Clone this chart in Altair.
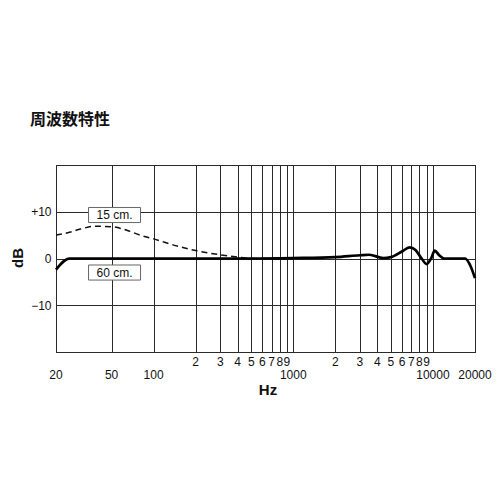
import altair as alt
import pandas as pd

# ---- data ----
freq_15 = [20, 25, 30, 38, 50, 65, 80, 100, 150, 200, 300, 400, 500, 700, 1000]
db_15 = [5.0, 5.6, 6.3, 6.9, 6.8, 6.0, 5.0, 4.2, 2.6, 1.7, 0.8, 0.3, 0.0, 0.0, 0.0]

freq_60 = [20, 25, 30, 50, 100, 500, 1000, 2000, 3000, 3500, 4400, 5000, 6000, 6800,
           7500, 8300, 9000, 9700, 10300, 11000, 12000, 17000, 18500, 20000]
db_60 = [-2.4, 0.0, 0.0, 0.0, 0.0, 0.0, 0.1, 0.3, 0.7, 0.8, 0.1, 0.3, 1.5, 2.4,
         1.8, 0.0, -1.2, 0.0, 1.7, 0.8, 0.0, 0.0, -1.5, -4.2]

grid_freqs = [20, 50, 100, 200, 300, 400, 500, 600, 700, 800, 900, 1000,
              2000, 3000, 4000, 5000, 6000, 7000, 8000, 9000, 10000, 20000]
grid_db = [-20, -15, -10, -5, 0, 5, 10, 15, 20]

minor_freqs = [200, 300, 400, 500, 600, 700, 800, 900,
               2000, 3000, 4000, 5000, 6000, 7000, 8000, 9000]
minor_labels = ["2", "3", "4", "5", "6", "7", "8", "9",
                "2", "3", "4", "5", "6", "7", "8", "9"]
major_freqs = [20, 50, 100, 1000, 10000, 20000]
major_labels = ["20", "50", "100", "1000", "10000", "20000"]

curve_labels = ["15 cm.", "60 cm."]
label_freq = [52.5, 52.5]
label_db = [9.3, -3.0]

W, H = 419, 187

xs = alt.Scale(type="log", domain=[20, 20000], nice=False)
ys = alt.Scale(domain=[-20, 20], nice=False)

base = alt.Chart(pd.DataFrame({"f": [20], "db": [0]})).mark_point(opacity=0).encode(
    x=alt.X("f:Q", scale=xs,
            axis=alt.Axis(values=grid_freqs, grid=True, labels=False, ticks=False,
                          domain=False, title=None, gridColor="#2a2a2a", gridWidth=1,
                          gridOpacity=1)),
    y=alt.Y("db:Q", scale=ys,
            axis=alt.Axis(values=grid_db, grid=True, ticks=False, domain=False, title=None,
                          gridColor="#2a2a2a", gridWidth=1, gridOpacity=1,
                          labelExpr="datum.value == 10 ? '+10' : datum.value == 0 ? '0' : datum.value == -10 ? '\u221210' : ''",
                          labelFont="Liberation Sans", labelFontSize=12, labelColor="#111",
                          labelPadding=5)),
)

dashed = alt.Chart(pd.DataFrame({"f": freq_15, "db": db_15})).mark_line(
    color="#111", strokeWidth=1.5, strokeDash=[6, 4], interpolate="monotone"
).encode(x=alt.X("f:Q", scale=xs), y=alt.Y("db:Q", scale=ys))

solid = alt.Chart(pd.DataFrame({"f": freq_60, "db": db_60})).mark_line(
    color="#000", strokeWidth=2.7, interpolate="monotone"
).encode(x=alt.X("f:Q", scale=xs), y=alt.Y("db:Q", scale=ys))

lab_df = pd.DataFrame({"f": label_freq, "db": label_db, "t": curve_labels})
boxes = alt.Chart(lab_df).mark_point(
    shape="M-1,-0.29L1,-0.29L1,0.29L-1,0.29Z", size=52 * 52, filled=False,
    fill="white", fillOpacity=1, stroke="#666", strokeWidth=1, opacity=1
).encode(x=alt.X("f:Q", scale=xs), y=alt.Y("db:Q", scale=ys))
box_text = alt.Chart(lab_df).mark_text(
    font="Liberation Sans", fontSize=12, color="#111"
).encode(x=alt.X("f:Q", scale=xs), y=alt.Y("db:Q", scale=ys), text="t:N")

minor_txt = alt.Chart(pd.DataFrame({"f": minor_freqs, "t": minor_labels})).mark_text(
    font="Liberation Sans", fontSize=12, color="#111", baseline="middle"
).encode(x=alt.X("f:Q", scale=xs), y=alt.value(H + 10), text="t:N")
major_txt = alt.Chart(pd.DataFrame({"f": major_freqs, "t": major_labels})).mark_text(
    font="Liberation Sans", fontSize=12, color="#111", baseline="middle"
).encode(x=alt.X("f:Q", scale=xs), y=alt.value(H + 23), text="t:N")

one = pd.DataFrame({"a": [0]})
title_txt = alt.Chart(one).mark_text(
    text="周波数特性", font="Noto Sans CJK JP", fontSize=16, fontWeight="bold",
    align="left", baseline="middle", color="#111"
).encode(x=alt.value(-26), y=alt.value(-45))
hz_txt = alt.Chart(one).mark_text(
    text="Hz", font="Liberation Sans", fontSize=15, fontWeight="bold",
    align="center", baseline="middle", color="#111"
).encode(x=alt.value(212), y=alt.value(225))
db_txt = alt.Chart(one).mark_text(
    text="dB", font="Liberation Sans", fontSize=15, fontWeight="bold",
    align="center", baseline="middle", angle=270, color="#111"
).encode(x=alt.value(-38), y=alt.value(93))

chart = alt.layer(
    base, dashed, solid, boxes, box_text, minor_txt, major_txt, title_txt, hz_txt, db_txt
).properties(
    width=W, height=H,
    autosize=alt.AutoSizeParams(type="none"),
    padding={"left": 48, "top": 157, "right": 17, "bottom": 60},
).configure_view(stroke="#111", strokeWidth=1)

chart.save("out.html", embed_options={"renderer": "svg", "actions": False})
